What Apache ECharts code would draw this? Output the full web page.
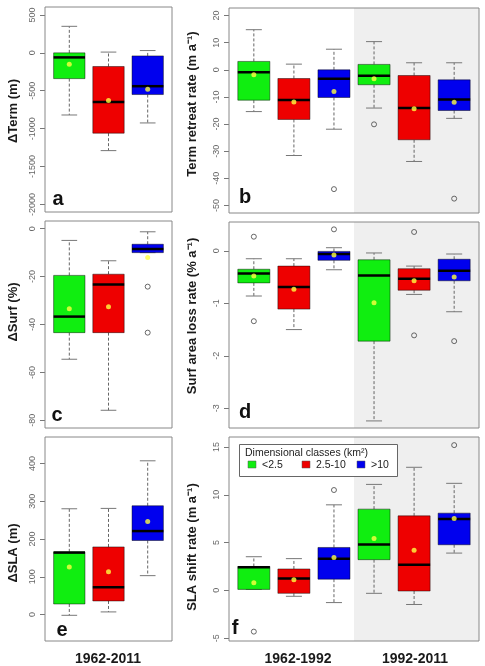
<!DOCTYPE html>
<html lang="en">
<head>
  <meta charset="UTF-8">
  <script src="https://cdn.jsdelivr.net/npm/echarts@6/dist/echarts.min.js"></script>
  <title>Glacier change by size class</title>
</head>
<body style="margin:0">
  <div id="chart" style="width: 485px; height: 666px"></div>
  <script>
    // size classes and their colours
    const classes = ['<2.5', '2.5-10', '>10'];
    const classColors = ['#10ee10', '#ee0000', '#0000ee'];

    // every box row: [lower whisker, Q1, median, Q3, upper whisker]
    // a: change of terminus 1962-2011 (m)
    const termChange = [[-820, -340, -60, 0, 350], [-1290, -1060, -650, -180, 10], [-925, -550, -440, -40, 30]];
    const termChangeMean = [-150, -630, -480];
    const termChangeOut = [];
    // b: terminus retreat rate, 1962-1992 then 1992-2011
    const termRate = [[-15.4, -11.2, -0.9, 3.1, 14.8], [-31.6, -18.3, -11.1, -3.2, 2.1], [-21.9, -10.2, -3.3, 0, 7.6],
                      [-14.1, -5.5, -2.2, 2.0, 10.4], [-33.8, -25.8, -14.1, -2.1, 2.6], [-17.9, -15.0, -10.9, -3.7, 2.6]];
    const termRateMean = [-1.8, -11.9, -8.0, -3.3, -14.4, -12.0];
    const termRateOut = [[3, -44], [4, -20.1], [6, -47.5]];
    // c: surface change (%)
    const surfChange = [[-54.5, -43.4, -36.7, -19.5, -4.9], [-75.8, -43.4, -23.3, -19, -13.4], [-10, -10, -8.5, -6.5, -1.3]];
    const surfChangeMean = [-33.4, -32.6, -12];
    const surfChangeOut = [[3, -24.2], [3, -43.4]];
    // d: surface area loss rate
    const surfRate = [[-0.86, -0.61, -0.43, -0.35, -0.15], [-1.5, -1.11, -0.69, -0.29, -0.15], [-0.36, -0.18, -0.06, -0.01, 0.06],
                      [-3.24, -1.72, -0.47, -0.17, -0.04], [-0.83, -0.75, -0.53, -0.34, -0.29], [-1.16, -0.57, -0.38, -0.16, -0.06]];
    const surfRateMean = [-0.48, -0.73, -0.08, -0.99, -0.57, -0.50];
    const surfRateOut = [[1, 0.27], [1, -1.34], [3, 0.41], [5, 0.36], [5, -1.61], [6, -1.72]];
    // e: snow line altitude change (m)
    const slaChange = [[-2, 28, 164, 166, 280], [7, 36, 72, 179, 281], [103, 196, 221, 288, 407]];
    const slaChangeMean = [126, 113, 246];
    const slaChangeOut = [];
    // f: SLA shift rate
    const slaRate = [[0.1, 0.1, 2.42, 2.5, 3.52], [-0.62, -0.31, 1.24, 2.24, 3.32], [-1.28, 1.17, 3.32, 4.49, 8.95],
                     [-0.31, 3.21, 4.8, 8.5, 11.09], [-1.48, -0.07, 2.69, 7.8, 12.88], [3.9, 4.77, 7.46, 8.08, 11.2]];
    const slaRateMean = [0.8, 1.1, 3.45, 5.42, 4.21, 7.53];
    const slaRateOut = [[1, -4.32], [3, 10.5], [6, 15.2]];

    // y tick labels
    const ticksA = [-2000, -1500, -1000, -500, 0, 500];
    const ticksB = [-50, -40, -30, -20, -10, 0, 10, 20];
    const ticksC = [-80, -60, -40, -20, 0];
    const ticksD = [-3, -2, -1, 0];
    const ticksE = [0, 100, 200, 300, 400];
    const ticksF = [-5, 0, 5, 10, 15];

    const periodLabels = ['1962-2011', '1962-1992', '1992-2011'];

    const font = '"Liberation Sans", Arial, sans-serif';
    const chart = echarts.init(document.getElementById('chart'));

    const panels = [
      { box: termChange, mean: termChangeMean, out: termChangeOut, ticks: ticksA, min: -2100, max: 605, grid: [45, 7, 127, 205], letter: 'a', lp: [58, 199] },
      { box: termRate, mean: termRateMean, out: termRateOut, ticks: ticksB, min: -52.8, max: 22.8, grid: [229, 8, 250, 205], letter: 'b', lp: [245, 197] },
      { box: surfChange, mean: surfChangeMean, out: surfChangeOut, ticks: ticksC, min: -83.2, max: 3.2, grid: [45, 221, 127, 207], letter: 'c', lp: [57, 415] },
      { box: surfRate, mean: surfRateMean, out: surfRateOut, ticks: ticksD, min: -3.375, max: 0.55, grid: [229, 222, 250, 206], letter: 'd', lp: [245, 412] },
      { box: slaChange, mean: slaChangeMean, out: slaChangeOut, ticks: ticksE, min: -70, max: 470, grid: [45, 437, 127, 204], letter: 'e', lp: [62, 630] },
      { box: slaRate, mean: slaRateMean, out: slaRateOut, ticks: ticksF, min: -5.3, max: 16.05, grid: [229, 437, 250, 204], letter: 'f', lp: [235, 628] }
    ];

    function renderBox(params, api) {
      const x = api.value(0);
      const lo = api.coord([x, api.value(1)]);
      const q1 = api.coord([x, api.value(2)]);
      const med = api.coord([x, api.value(3)]);
      const q3 = api.coord([x, api.value(4)]);
      const hi = api.coord([x, api.value(5)]);
      const half = api.size([0.8, 0])[0] / 2;
      const cap = half / 2;
      const cx = q1[0];
      const color = classColors[(x - 1) % 3];
      const dash = { stroke: '#666', lineWidth: 1, lineDash: [3, 2] };
      const solid = { stroke: '#777', lineWidth: 1 };
      return {
        type: 'group',
        children: [
          { type: 'line', shape: { x1: cx, y1: q3[1], x2: cx, y2: hi[1] }, style: dash },
          { type: 'line', shape: { x1: cx, y1: q1[1], x2: cx, y2: lo[1] }, style: dash },
          { type: 'line', shape: { x1: cx - cap, y1: hi[1], x2: cx + cap, y2: hi[1] }, style: solid },
          { type: 'line', shape: { x1: cx - cap, y1: lo[1], x2: cx + cap, y2: lo[1] }, style: solid },
          { type: 'rect', shape: { x: cx - half, y: q3[1], width: half * 2, height: q1[1] - q3[1] },
            style: { fill: color, stroke: 'rgba(0,0,0,0.45)', lineWidth: 1 } },
          { type: 'line', shape: { x1: cx - half, y1: med[1], x2: cx + half, y2: med[1] },
            style: { stroke: '#000', lineWidth: 2.5 } }
        ]
      };
    }

    function renderShade(params, api) {
      const cs = params.coordSys;
      const x0 = api.coord([3.5, 0])[0];
      return {
        type: 'rect',
        shape: { x: x0, y: cs.y, width: cs.x + cs.width - x0, height: cs.height },
        style: { fill: '#efefef' }
      };
    }

    const grid = [], xAxis = [], yAxis = [], series = [], graphic = [];
    panels.forEach((p, i) => {
      const n = p.box.length;
      grid.push({ left: p.grid[0], top: p.grid[1], width: p.grid[2], height: p.grid[3],
        show: true, z: 10, borderColor: '#888', borderWidth: 1, backgroundColor: 'transparent' });
      xAxis.push({ gridIndex: i, type: 'value', min: 0.38, max: n + 0.62, show: false });
      yAxis.push({
        gridIndex: i, type: 'value', min: p.min, max: p.max,
        splitLine: { show: false },
        axisLine: { show: false },
        axisTick: { show: true, length: 5, customValues: p.ticks, lineStyle: { color: '#777' } },
        axisLabel: { rotate: 90, customValues: p.ticks, fontSize: 9, color: '#666', margin: 8, fontFamily: font,
          formatter: v => String(v) }
      });
      if (n === 6) {
        series.push({ type: 'custom', xAxisIndex: i, yAxisIndex: i, z: 1, silent: true,
          renderItem: renderShade, data: [[3.5, 0]] });
      }
      series.push({ type: 'custom', xAxisIndex: i, yAxisIndex: i, z: 2,
        renderItem: renderBox, data: p.box.map((r, k) => [k + 1].concat(r)) });
      series.push({ type: 'scatter', xAxisIndex: i, yAxisIndex: i, z: 3, symbolSize: 5,
        itemStyle: { color: 'rgba(0,0,0,0)', borderColor: '#444', borderWidth: 1 }, data: p.out });
      series.push({ type: 'scatter', xAxisIndex: i, yAxisIndex: i, z: 4, symbolSize: 5,
        itemStyle: { color: '#ffff40' }, data: p.mean.map((m, k) => [k + 1, m]) });
      graphic.push({ type: 'text', x: p.lp[0], y: p.lp[1], z: 20,
        style: { text: p.letter, font: 'bold 20px ' + font, fill: '#111', textAlign: 'center', textVerticalAlign: 'middle' } });
    });

    // axis titles
    const titles = [
      ['ΔTerm (m)', 13, 111], ['Term retreat rate (m a⁻¹)', 192, 104],
      ['ΔSurf (%)', 13, 312], ['Surf area loss rate (% a⁻¹)', 192, 316],
      ['ΔSLA (m)', 13, 553], ['SLA shift rate (m a⁻¹)', 192, 547]
    ];
    titles.forEach(t => {
      graphic.push({ type: 'text', x: t[1], y: t[2], rotation: Math.PI / 2,
        style: { text: t[0], font: 'bold 13px ' + font, fill: '#1a1a1a', textAlign: 'center', textVerticalAlign: 'middle' } });
    });
    // period labels under the columns
    [[periodLabels[0], 108], [periodLabels[1], 298], [periodLabels[2], 415]].forEach(t => {
      graphic.push({ type: 'text', x: t[1], y: 659,
        style: { text: t[0], font: 'bold 14px ' + font, fill: '#1a1a1a', textAlign: 'center', textVerticalAlign: 'middle' } });
    });
    // legend box in panel f
    graphic.push({ type: 'rect', z: 30, shape: { x: 239.5, y: 444.5, width: 158, height: 32 },
      style: { fill: '#fff', stroke: '#666', lineWidth: 1 } });
    graphic.push({ type: 'text', z: 31, x: 245, y: 453,
      style: { text: 'Dimensional classes (km²)', font: '10.5px ' + font, fill: '#222', textVerticalAlign: 'middle' } });
    const legendX = [248, 302, 357];
    classes.forEach((c, k) => {
      graphic.push({ type: 'rect', z: 31, shape: { x: legendX[k], y: 461, width: 8, height: 7 },
        style: { fill: classColors[k], stroke: '#555', lineWidth: 0.5 } });
      graphic.push({ type: 'text', z: 31, x: legendX[k] + 14, y: 465,
        style: { text: c, font: '10.5px ' + font, fill: '#222', textVerticalAlign: 'middle' } });
    });

    chart.setOption({
      animation: false,
      backgroundColor: '#fff',
      grid: grid,
      xAxis: xAxis,
      yAxis: yAxis,
      series: series,
      graphic: graphic
    });
  </script>
</body>
</html>
